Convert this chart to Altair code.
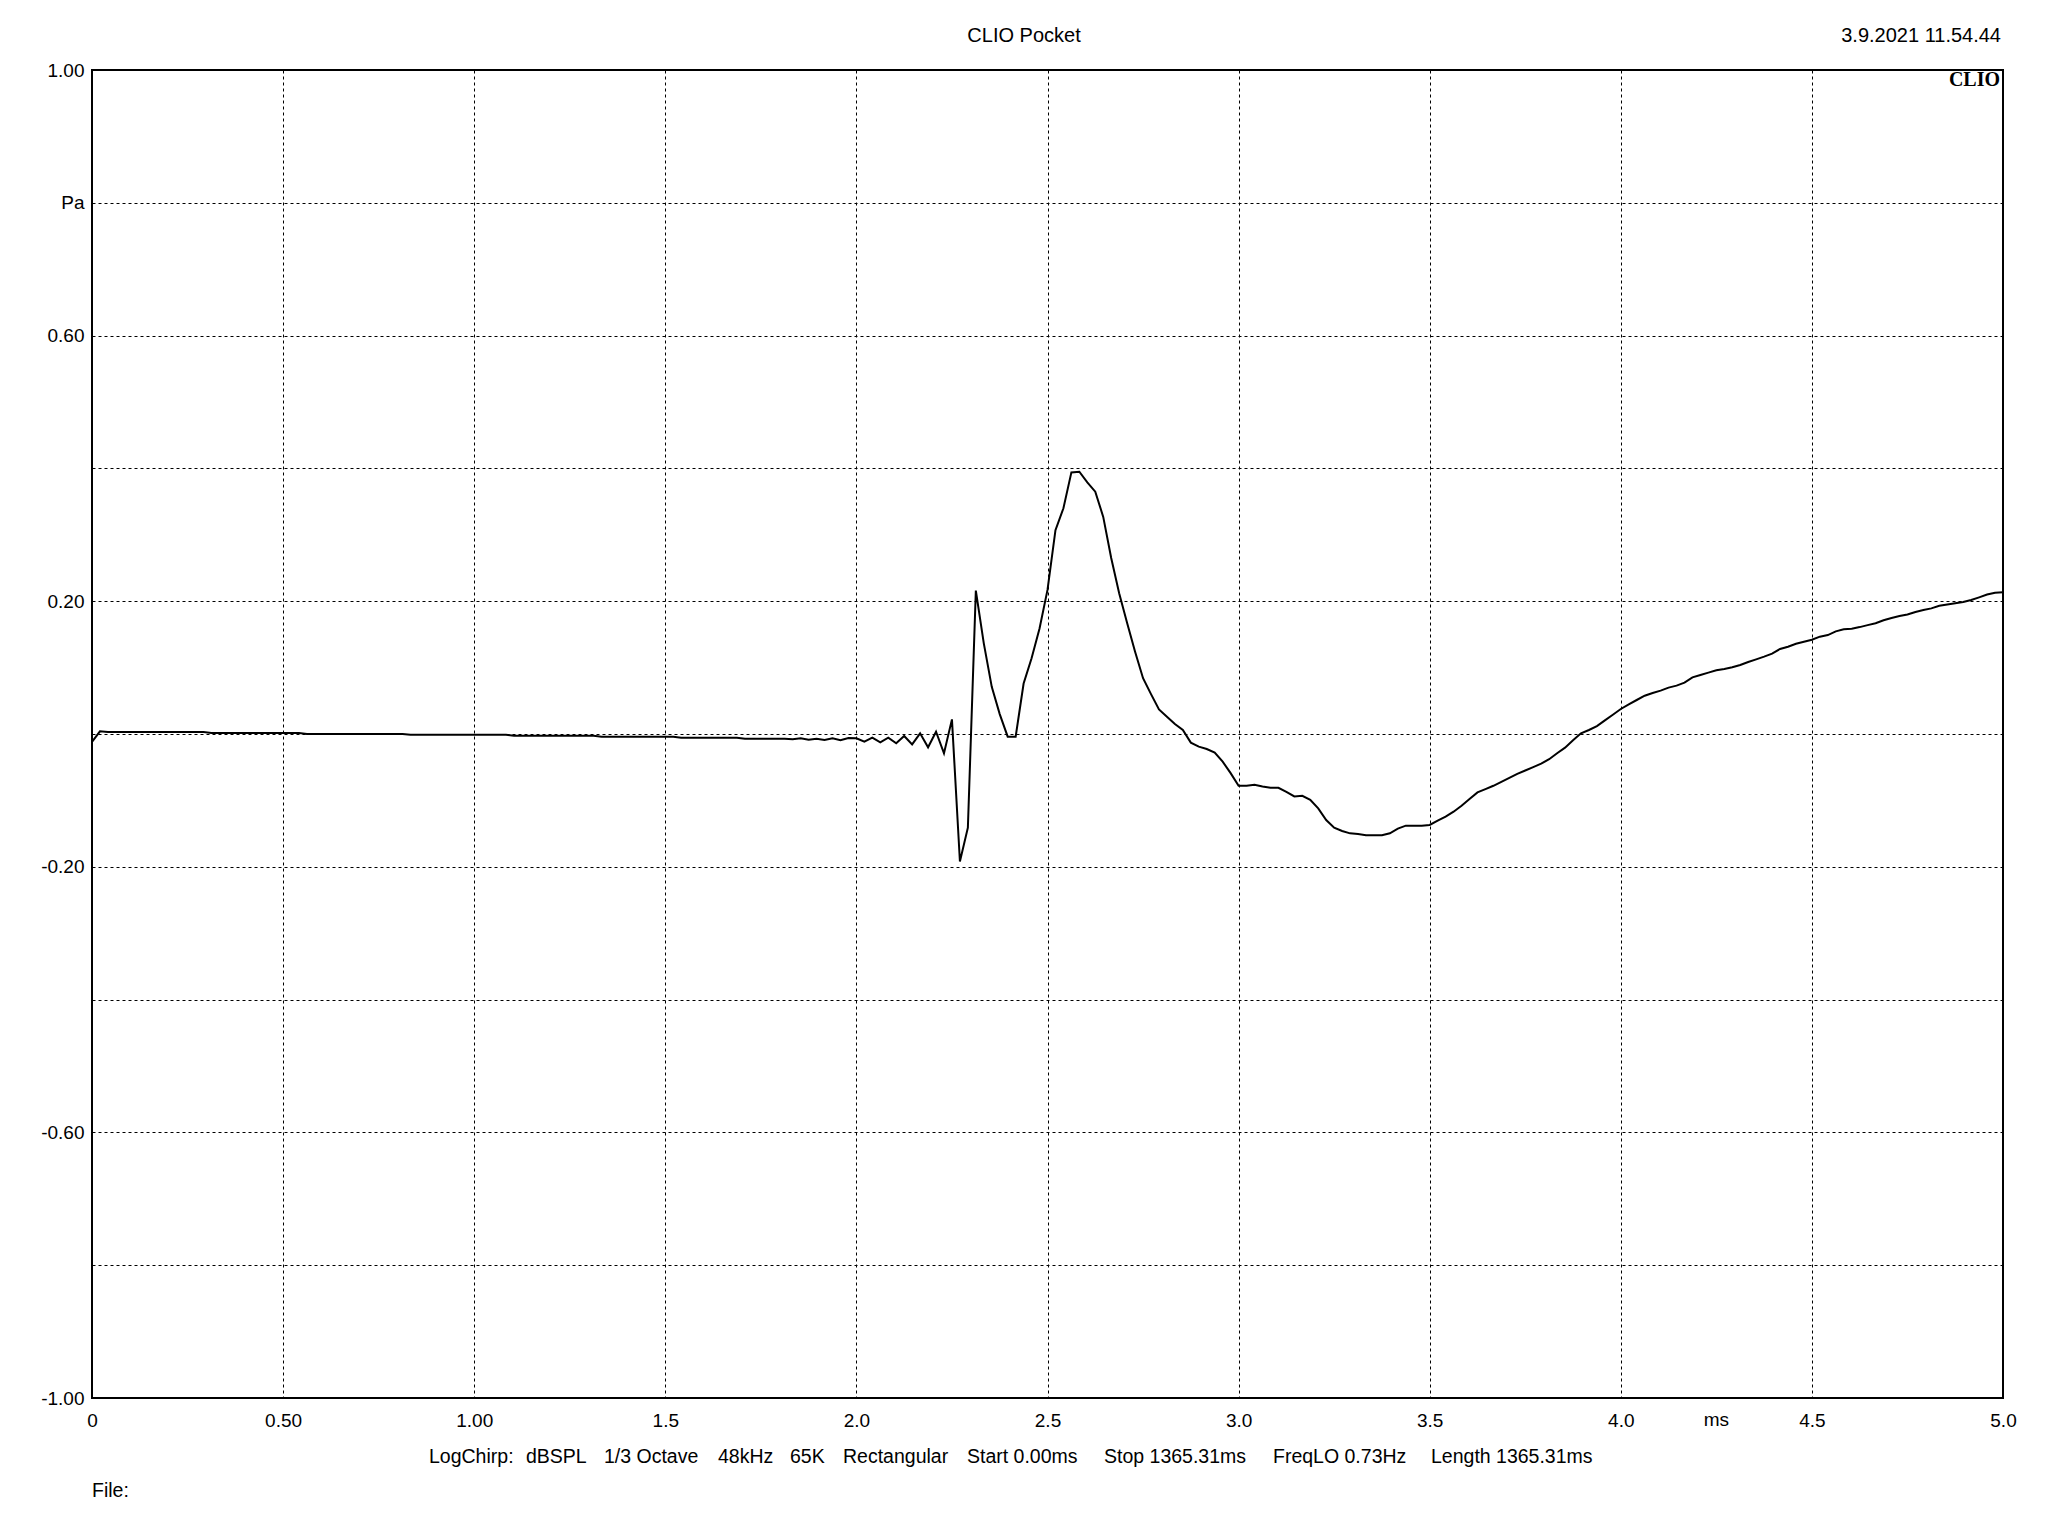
import json
import altair as alt
import pandas as pd

# ---------------- data ----------------
SAMPLE_RATE_KHZ = 48  # samples per ms

PRESSURE_PA = [
    # n = 0 .. 14
    -0.012, 0.004, 0.003, 0.003, 0.003, 0.003, 0.003, 0.003, 0.003, 0.003,
    0.003, 0.003, 0.003, 0.003, 0.003,
    # n = 15 .. 26
    0.0015, 0.0015, 0.0015, 0.0015, 0.0015, 0.0015, 0.0015, 0.0015, 0.0015,
    0.0015, 0.0015, 0.0015,
    # n = 27 .. 39
    0.0, 0.0, 0.0, 0.0, 0.0, 0.0, 0.0, 0.0, 0.0, 0.0, 0.0, 0.0, 0.0,
    # n = 40 .. 52
    -0.001, -0.001, -0.001, -0.001, -0.001, -0.001, -0.001, -0.001, -0.001,
    -0.001, -0.001, -0.001, -0.001,
    # n = 53 .. 63
    -0.0025, -0.0025, -0.0025, -0.0025, -0.0025, -0.0025, -0.0025, -0.0025,
    -0.0025, -0.0025, -0.0025,
    # n = 64 .. 73
    -0.004, -0.004, -0.004, -0.004, -0.004, -0.004, -0.004, -0.004, -0.004,
    -0.004,
    # n = 74 .. 81
    -0.0055, -0.0055, -0.0055, -0.0055, -0.0055, -0.0055, -0.0055, -0.0055,
    # n = 82 .. 87
    -0.007, -0.007, -0.007, -0.007, -0.007, -0.007,
    # n = 88 .. 95
    -0.008, -0.0065, -0.0085, -0.007, -0.009, -0.0065, -0.0095, -0.006,
    # n = 96 .. 108
    -0.0065, -0.0115, -0.0055, -0.0125, -0.0055, -0.014, -0.003, -0.0156,
    0.001, -0.020, 0.0035, -0.029, 0.022,
    # n = 109 .. 126
    -0.192, -0.141, 0.216, 0.1365, 0.071, 0.030, -0.004, -0.004, 0.076,
    0.114, 0.159, 0.217, 0.307, 0.340, 0.394, 0.395, 0.379, 0.365,
    # n = 127 .. 145
    0.327, 0.265, 0.212, 0.167, 0.124, 0.084, 0.060, 0.037, 0.026, 0.015,
    0.006, -0.013, -0.019, -0.0226, -0.028, -0.0417, -0.059, -0.078, -0.078,
    # n = 146 .. 168
    -0.0763, -0.079, -0.081, -0.081, -0.087, -0.094, -0.093, -0.099, -0.112,
    -0.1295, -0.141, -0.146, -0.1496, -0.1506, -0.1526, -0.1526, -0.1526,
    -0.1496, -0.1426, -0.138, -0.138, -0.138, -0.137,
    # n = 169 .. 189
    -0.1305, -0.1245, -0.117, -0.108, -0.098, -0.088, -0.083, -0.078, -0.072,
    -0.066, -0.060, -0.055, -0.050, -0.0447, -0.038, -0.029, -0.0206,
    -0.0095, 0.001, 0.006, 0.012,
    # n = 190 .. 215
    0.0206, 0.029, 0.0377, 0.0447, 0.0512, 0.0577, 0.0617, 0.0653, 0.0698,
    0.0728, 0.0773, 0.0853, 0.0889, 0.0924, 0.0959, 0.0979, 0.1004, 0.1039,
    0.1084, 0.1124, 0.1165, 0.121, 0.128, 0.1315, 0.136, 0.139,
    # n = 216 .. 240
    0.142, 0.1466, 0.149, 0.1546, 0.1576, 0.1586, 0.161, 0.164, 0.1667,
    0.1712, 0.1747, 0.1777, 0.180, 0.1837, 0.1867, 0.1892, 0.193, 0.195,
    0.1968, 0.1988, 0.2018, 0.2058, 0.210, 0.2128, 0.2133,
]

X_TICKS = [0, 0.5, 1.0, 1.5, 2.0, 2.5, 3.0, 3.5, 4.0, 4.5, 5.0]
X_LABELS = ["0", "0.50", "1.00", "1.5", "2.0", "2.5", "3.0", "3.5", "4.0", "4.5", "5.0"]
Y_TICKS = [-1.0, -0.8, -0.6, -0.4, -0.2, 0.0, 0.2, 0.4, 0.6, 0.8, 1.0]
Y_LABELS = ["-1.00", "", "-0.60", "", "-0.20", "", "0.20", "", "0.60", "Pa", "1.00"]
X_UNIT = ["ms"]
X_UNIT_POS = [4.25]

TITLE = "CLIO Pocket"
DATE = "3.9.2021 11.54.44"
LOGO = "CLIO"
FOOTER_ITEMS = ["LogChirp:", "dBSPL", "1/3 Octave", "48kHz", "65K", "Rectangular",
                "Start 0.00ms", "Stop 1365.31ms", "FreqLO 0.73Hz", "Length 1365.31ms"]
FILE_LABEL = "File:"

# ---------------- layout ----------------
W, H = 1911, 1328
FONT = "Liberation Sans"
FOOTER_X = [337, 434, 512, 626, 698, 751, 875, 1012, 1181, 1339]  # px from plot left
FOOTER_Y = 1393

df = pd.DataFrame({
    "t": [i / SAMPLE_RATE_KHZ for i in range(len(PRESSURE_PA))],
    "p": PRESSURE_PA,
})

xscale = alt.Scale(domain=[0, 5], nice=False, zero=False)
yscale = alt.Scale(domain=[-1, 1], nice=False, zero=False)

x_expr = json.dumps(X_LABELS) + "[round(datum.value*2)]"
y_expr = json.dumps(Y_LABELS) + "[round(datum.value*5)+5]"

line = alt.Chart(df).mark_line(color="black", strokeWidth=2, interpolate="linear").encode(
    x=alt.X("t:Q", scale=xscale, axis=alt.Axis(
        values=X_TICKS, grid=True, gridColor="black", gridDash=[3, 3], gridWidth=1,
        gridOpacity=1, domain=False, ticks=False, tickSize=0, labelExpr=x_expr,
        labelFont=FONT, labelFontSize=19, labelColor="black", labelPadding=13,
        labelFlush=False, labelOverlap=False, title=None)),
    y=alt.Y("p:Q", scale=yscale, axis=alt.Axis(
        values=Y_TICKS, grid=True, gridColor="black", gridDash=[3, 3], gridWidth=1,
        gridOpacity=1, domain=False, ticks=False, tickSize=0, labelExpr=y_expr,
        labelFont=FONT, labelFontSize=19, labelColor="black", labelPadding=8,
        labelFlush=False, labelOverlap=False, title=None)),
)


def label(text, x, y, align="left", size=20, font=FONT, weight="normal"):
    return alt.Chart(pd.DataFrame({"s": [text]})).mark_text(
        align=align, baseline="alphabetic", font=font, fontSize=size,
        fontWeight=weight, color="black",
    ).encode(x=alt.value(x), y=alt.value(y), text="s:N")


unit = alt.Chart(pd.DataFrame({"x": X_UNIT_POS, "s": X_UNIT})).mark_text(
    align="center", baseline="alphabetic", font=FONT, fontSize=19, color="black"
).encode(x=alt.X("x:Q", scale=xscale), y=alt.value(1356), text="s:N")

layers = [line, unit,
          label(TITLE, 932, -28.3, align="center", size=20),
          label(DATE, 1909, -28.3, align="right", size=20),
          label(LOGO, 1908, 15.7, align="right", size=20, font="Liberation Serif", weight="bold"),
          label(FILE_LABEL, 0, 1427, align="left", size=19.5)]
for txt, fx in zip(FOOTER_ITEMS, FOOTER_X):
    layers.append(label(txt, fx, FOOTER_Y, align="left", size=19.5))

chart = alt.layer(*layers).properties(
    width=W, height=H,
    padding={"left": 84, "top": 62, "right": 37, "bottom": 120},
    autosize=alt.AutoSizeParams(type="none"),
    background="white",
).configure_view(stroke="black", strokeWidth=2)

chart.save("out.html", embed_options={"renderer": "svg", "actions": False})
